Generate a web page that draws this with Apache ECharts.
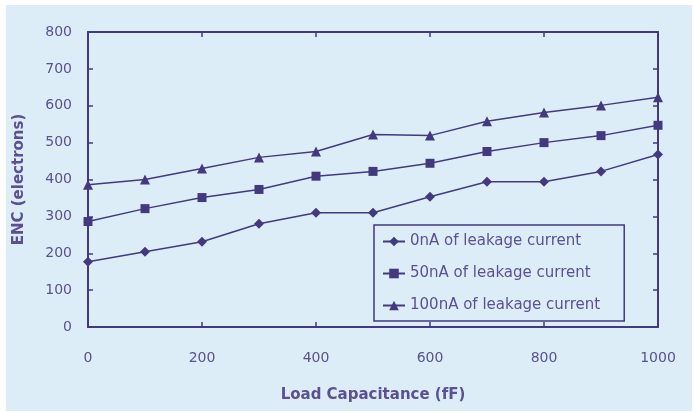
<!DOCTYPE html>
<html><head><meta charset="utf-8">
<script src="https://cdn.jsdelivr.net/npm/echarts@6/dist/echarts.min.js"></script>
<style>html,body{margin:0;padding:0;background:#fff}#c{width:693px;height:412px}</style>
</head><body><div id="c"></div>
<script>
const loadCap = [0, 100, 200, 300, 400, 500, 600, 700, 800, 900, 1000];
const enc0nA = [177, 204, 231, 280, 310, 310, 353, 394, 394, 422, 468];
const enc50nA = [286, 321, 351, 373, 409, 422, 444, 476, 500, 519, 547];
const enc100nA = [386, 400, 430, 460, 476, 522, 519, 558, 582, 601, 623];
const seriesNames = ['0nA of leakage current', '50nA of leakage current', '100nA of leakage current'];

const ink = '#42397f';
const txt = '#5a5092';
const font = 'DejaVu Sans';
const chart = echarts.init(document.getElementById('c'));
const pair = a => loadCap.map((x, i) => [x, a[i]]);
const mk = (name, data, symbol, size) => ({
  name, type: 'line', data: pair(data), symbol, symbolSize: size,
  lineStyle: { color: ink, width: 1.5 }, itemStyle: { color: ink },
  animation: false
});
const axisCommon = {
  axisLine: { show: true, onZero: false, lineStyle: { color: ink, width: 2 } },
  axisTick: { show: true, inside: true, length: 5, lineStyle: { color: ink, width: 1.5 } },
  splitLine: { show: false }
};
chart.setOption({
  backgroundColor: '#ffffff',
  graphic: [{ type: 'rect', shape: { x: 6, y: 5, width: 686, height: 406 }, style: { fill: '#ddedf8' }, z: -10 }],
  textStyle: { fontFamily: font },
  grid: { left: 88, right: 35, top: 32, bottom: 85 },
  legend: {
    data: seriesNames, orient: 'vertical', left: 374, top: 225,
    padding: [9, 24, 8, 8], itemGap: 17, itemWidth: 22, itemHeight: 12,
    backgroundColor: 'rgba(0,0,0,0)', borderColor: ink, borderWidth: 1.5,
    textStyle: { color: txt, fontSize: 15, fontFamily: font }
  },
  xAxis: [
    Object.assign({}, axisCommon, {
      type: 'value', min: 0, max: 1000, interval: 200,
      name: 'Load Capacitance (fF)', nameLocation: 'middle', nameGap: 61,
      nameTextStyle: { color: txt, fontSize: 15, fontWeight: 'bold', fontFamily: font },
      axisLabel: { color: txt, fontSize: 14, margin: 24, formatter: v => String(v) }
    }),
    Object.assign({}, axisCommon, {
      type: 'value', min: 0, max: 1000, interval: 200, position: 'top',
      axisLabel: { show: false }
    })
  ],
  yAxis: [
    Object.assign({}, axisCommon, {
      type: 'value', min: 0, max: 800, interval: 100,
      name: 'ENC (electrons)', nameLocation: 'middle', nameGap: 61,
      nameTextStyle: { color: txt, fontSize: 15, fontWeight: 'bold', fontFamily: font },
      axisLabel: { color: txt, fontSize: 14, margin: 16 }
    }),
    Object.assign({}, axisCommon, {
      type: 'value', min: 0, max: 800, interval: 100, position: 'right',
      axisLabel: { show: false }
    })
  ],
  series: [
    mk(seriesNames[0], enc0nA, 'diamond', 10),
    mk(seriesNames[1], enc50nA, 'rect', 9),
    mk(seriesNames[2], enc100nA, 'triangle', 10)
  ]
});
</script></body></html>
